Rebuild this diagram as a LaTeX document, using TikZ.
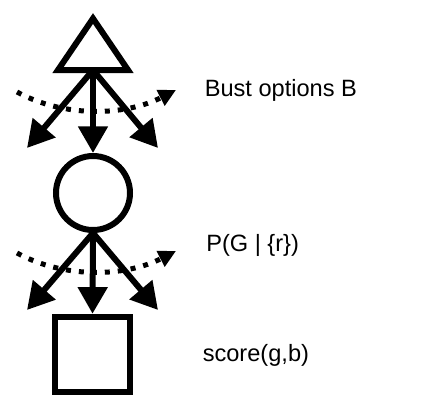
\documentclass[tikz,border=0pt]{standalone}
\usepackage{fontspec}
\setmainfont{Liberation Sans}
\usetikzlibrary{arrows.meta}

\begin{document}
\begin{tikzpicture}[x=0.75pt,y=-0.75pt]

\def\lw{4.5pt}
\def\drop{161}

\tikzset{
        every node/.style={font=\fontsize{17.7}{21}\selectfont},
        outline/.style={line width=\lw, draw},
        choice/.style={line width=\lw, -{Triangle[length=20pt,width=21.5pt]}},
        swing/.style={line width=3.75pt, dash pattern=on 3.75pt off 6pt,
                -{Triangle[length=13pt,width=12.6pt]}},
        txt/.style={anchor=base west, inner sep=0pt}
}

\useasboundingbox (0,0) rectangle (421,405);

\coordinate (apex) at (93,18.5);
\draw[outline] (apex) -- (128,70) -- (58,70) -- cycle;
\coordinate (tri) at (93,70);

\node[outline, circle, minimum size=55.5pt, inner sep=0pt] (circ) at (93,193) {};
\node[outline, minimum size=56.6pt, inner sep=0pt] (box) at (92.5,354.5) {};

\coordinate (L1) at (27,148);
\coordinate (R1) at (158,148);
\coordinate (L2) at (27,310);
\coordinate (R2) at (158,310);

\foreach \s/\e in {tri/L1,tri/circ.north,tri/R1,circ.south/L2,circ.south/box.north,circ.south/R2}
     \draw[choice] (\s) -- (\e);

\foreach \i/\dy in {1/0,2/\drop} {
     \coordinate (a\i) at (17,92+\dy);
     \coordinate (b\i) at (176,90+\dy);
     \draw[swing] (a\i) .. controls (65,118+\dy) and (125,116+\dy) .. (b\i);
}

\node[txt] (bust) at (204.5,96.7) {Bust options B};
\node[txt] (prob) at (206,251.7) {P(G | \{r\})};
\node[txt] (score) at (202.5,361.7) {score(g,b)};

\end{tikzpicture}
\end{document}
